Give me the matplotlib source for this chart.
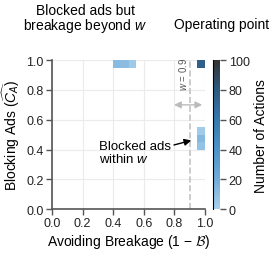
import numpy as np
import matplotlib.pyplot as plt
from matplotlib.colors import LinearSegmentedColormap

plt.rcParams['font.family'] = ['Liberation Sans', 'DejaVu Sans']
plt.rcParams['mathtext.fontset'] = 'custom'
plt.rcParams['mathtext.rm'] = 'Liberation Sans'
plt.rcParams['mathtext.it'] = 'Liberation Sans:italic'
plt.rcParams['font.size'] = 10

# occupied cells (lower-left corner of each 0.05 x 0.05 bin) and counts
cell_x = [0.40, 0.45, 0.50, 0.95, 0.95, 0.95, 0.95]
cell_y = [0.95, 0.95, 0.95, 0.95, 0.40, 0.45, 0.50]
counts = [12, 11, 4, 76, 8, 13, 3]

bin_edges = np.linspace(0, 1, 21)
window = 0.9

cmap = LinearSegmentedColormap.from_list(
    'blues_dark', ['#a9d1ec', '#72acd9', '#4a94cc', '#3579b0', '#2e5a80', '#333333'])

H, xe, ye = np.histogram2d(np.array(cell_x) + 0.025, np.array(cell_y) + 0.025,
                           bins=[bin_edges, bin_edges], weights=counts)
H = np.ma.masked_equal(H.T, 0)

fig = plt.figure(figsize=(2.74, 2.55), dpi=100)
ax = fig.add_axes([0.19, 0.176, 0.558, 0.584])
cax = fig.add_axes([0.777, 0.176, 0.027, 0.584])

ax.grid(True, color='#ebebeb', lw=0.8, zorder=0)
ax.set_axisbelow(True)
mesh = ax.pcolormesh(xe, ye, H, cmap=cmap, vmin=0, vmax=100, zorder=2)

ax.axvline(window, color='#c4c4c4', ls='--', lw=1.2, zorder=1)
ax.text(0.855, 0.91, '$w$ = 0.9', rotation=90, ha='center', va='center',
        fontsize=7, color='#555555')
ax.annotate('', xy=(0.78, 0.70), xytext=(1.0, 0.70),
            arrowprops=dict(arrowstyle='<|-|>', color='#bbbbbb', lw=1.0))

ax.set_xlim(0, 1)
ax.set_ylim(0, 1)
ax.set_xticks(np.arange(0, 1.01, 0.2))
ax.set_yticks(np.arange(0, 1.01, 0.2))
for s in ['top', 'right']:
    ax.spines[s].set_visible(False)
for s in ['left', 'bottom']:
    ax.spines[s].set_color('#555555')
    ax.spines[s].set_linewidth(1.2)
ax.tick_params(color='#555555', length=4.5, width=1, pad=1.5, labelsize=9,
               labelcolor='#222222')
ax.set_xlabel('Avoiding Breakage (1 \u2212 $\\mathcal{B}$)', labelpad=2,
              math_fontfamily='cm')
ax.set_ylabel(r'Blocking Ads ($\widehat{C_A}$)', labelpad=3)

ax.text(0.216, 1.385, 'Blocked ads but\nbreakage beyond $w$', ha='center', va='top',
        fontsize=10, linespacing=0.95)
ax.annotate('', xy=(0.45, 1.025), xytext=(0.425, 1.165),
            arrowprops=dict(arrowstyle='-|>', color='black', lw=1))
ax.text(1.108, 1.287, 'Operating point', ha='center', va='top', fontsize=10)
ax.annotate('', xy=(0.96, 1.025), xytext=(0.987, 1.165),
            arrowprops=dict(arrowstyle='-|>', color='black', lw=1))
ax.text(0.307, 0.465, 'Blocked ads\nwithin $w$', ha='left', va='top',
        fontsize=9.5, linespacing=1.0)
ax.annotate('', xy=(0.928, 0.466), xytext=(0.78, 0.426),
            arrowprops=dict(arrowstyle='-|>', color='black', lw=1))

cb = fig.colorbar(mesh, cax=cax)
cb.outline.set_visible(False)
cax.spines['left'].set_visible(True)
cb.set_ticks([0, 20, 40, 60, 80, 100])
cax.tick_params(color='#555555', length=4.5, width=1, pad=1.5, labelsize=9,
                labelcolor='#222222')
cb.set_label('Number of Actions', labelpad=3)

fig.savefig('out.png', dpi=100)
